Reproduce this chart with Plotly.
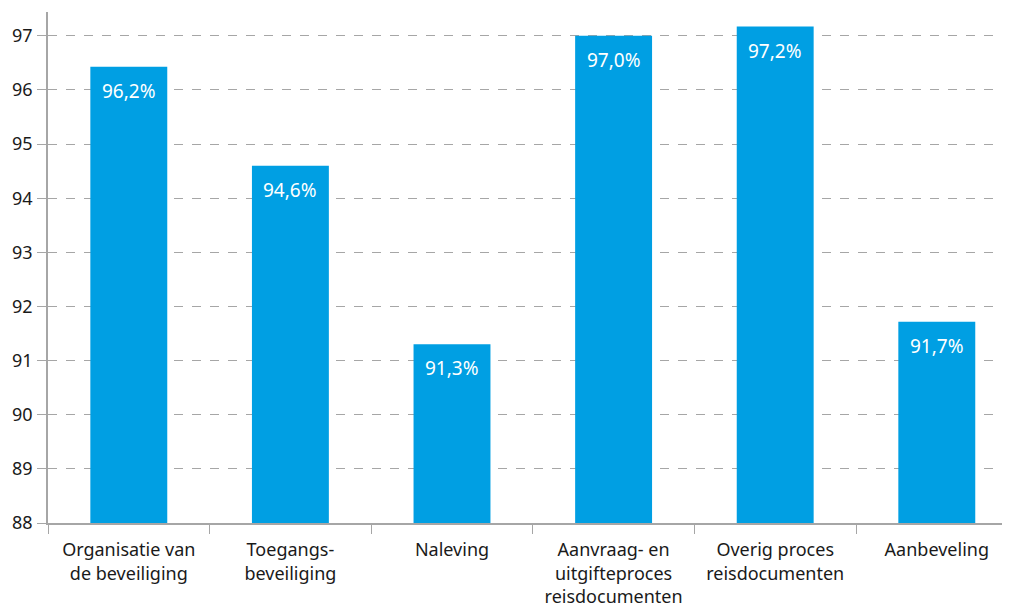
import plotly.graph_objects as go

categories = ["Organisatie van<br>de beveiliging", "Toegangs-<br>beveiliging", "Naleving",
              "Aanvraag- en<br>uitgifteproces<br>reisdocumenten", "Overig proces<br>reisdocumenten",
              "Aanbeveling"]
values = [96.43, 94.6, 91.3, 97.0, 97.17, 91.72]
labels = ["96,2%", "94,6%", "91,3%", "97,0%", "97,2%", "91,7%"]
y_ticks = [88, 89, 90, 91, 92, 93, 94, 95, 96, 97]

FONT = "Noto Sans"
fig = go.Figure()
fig.add_trace(go.Bar(
    x=categories, y=values,
    marker=dict(color="#009FE3", line=dict(width=0)),
    width=0.476, hoverinfo="skip",
))
for c, v, t in zip(categories, values, labels):
    fig.add_annotation(x=c, y=v, text=t, showarrow=False, yanchor="top", yshift=-9,
                       font=dict(family=FONT, size=19, color="white"))
fig.update_layout(
    width=1002, height=601,
    margin=dict(l=40, r=0, t=4, b=86),
    paper_bgcolor="white", plot_bgcolor="white",
    font=dict(family=FONT, size=18, color="#1a1a1a"),
    showlegend=False,
)
fig.update_xaxes(
    range=[-0.5, 5.453], tickson="boundaries", ticks="outside", ticklen=9,
    tickcolor="#a6a6a6", showline=True, linecolor="#a6a6a6", linewidth=1.5,
    showgrid=False, tickfont=dict(size=18), fixedrange=True, automargin=False,
    ticklabelstandoff=10,
)
fig.update_yaxes(
    range=[88, 97.44], tickvals=y_ticks, ticks="outside", ticklen=9,
    tickcolor="#a6a6a6", showline=True, linecolor="#a6a6a6", linewidth=1.5,
    showgrid=True, gridcolor="#a6a6a6", griddash="dash", gridwidth=1,
    zeroline=False, tickfont=dict(size=18), fixedrange=True, automargin=False,
    ticklabelstandoff=1,
)
fig.write_html("out.html")
